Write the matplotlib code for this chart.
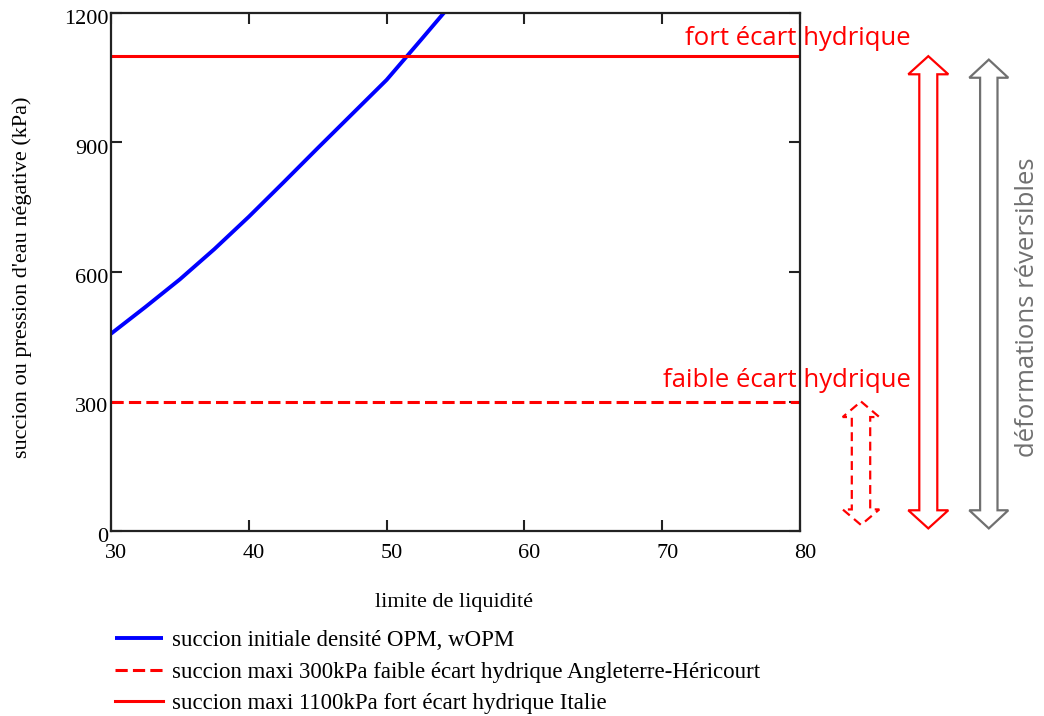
import matplotlib
matplotlib.use("Agg")
import matplotlib.pyplot as plt
import matplotlib.transforms as mtransforms
from matplotlib.patches import Polygon

# ---- data ----
limite_liquidite = [30, 32.5, 35, 37.5, 40, 42.5, 45, 47.5, 50, 52.5, 55]
succion_initiale = [457, 519, 583, 653, 728, 807, 887, 966, 1045, 1138, 1232]
succion_faible = 300
succion_fort = 1100
x_ticks = [30, 40, 50, 60, 70, 80]
y_ticks = [0, 300, 600, 900, 1200]
labels = ["succion initiale densité OPM, wOPM",
          "succion maxi 300kPa faible écart hydrique Angleterre-Héricourt",
          "succion maxi 1100kPa fort écart hydrique Italie"]

W, H = 1044, 716
fig = plt.figure(figsize=(W / 100, H / 100), dpi=100)
ax = fig.add_axes([111 / W, 1 - 531 / H, 689 / W, 518 / H])

serif = "Liberation Serif"
sans = "Open Sans"
RED = "#ff0000"
BLUE = "#0000ff"
GREY = "#707070"

ax.plot(limite_liquidite, succion_initiale, color=BLUE, lw=2.8, label=labels[0],
        solid_capstyle="butt", solid_joinstyle="round", clip_on=True)
ax.axhline(succion_faible, color=RED, lw=2.2, ls=(0, (4, 1.7)), label=labels[1])
ax.axhline(succion_fort, color=RED, lw=2.2, label=labels[2])

ax.set_xlim(30, 80)
ax.set_ylim(0, 1200)
ax.set_xticks(x_ticks)
ax.set_yticks(y_ticks)
ax.tick_params(direction="in", length=8, width=1.5, top=True, right=True,
               labelsize=16, colors="#222222")
ax.tick_params(axis="x", pad=9)
ax.tick_params(axis="y", pad=2)
for lab in ax.get_xticklabels() + ax.get_yticklabels():
    lab.set_fontfamily(serif)
    lab.set_color("black")
off_x = mtransforms.ScaledTranslation(5 / 100, 0, fig.dpi_scale_trans)
off_y = mtransforms.ScaledTranslation(0, -4 / 100, fig.dpi_scale_trans)
for lab in ax.get_xticklabels():
    lab.set_transform(lab.get_transform() + off_x)
for lab in ax.get_yticklabels():
    lab.set_transform(lab.get_transform() + off_y)

for s in ax.spines.values():
    s.set_linewidth(1.6)
    s.set_color("#222222")

fig.text(454 / W, 1 - 603 / H, "limite de liquidité", family=serif, fontsize=16,
         ha="center", va="center")
fig.text(22 / W, 1 - 277 / H, "succion ou pression d'eau négative (kPa)", family=serif,
         fontsize=16, ha="center", va="center", rotation=90)

leg = ax.legend(loc="upper left", bbox_to_anchor=(115 / W, 1 - 630 / H),
                bbox_transform=fig.transFigure, frameon=False,
                prop={"family": serif, "size": 16.5},
                handlelength=2.1, handletextpad=0.4, labelspacing=0.46, borderpad=0,
                borderaxespad=0)

# ---- annotations ----
fig.text(911 / W, 1 - 45 / H, "fort écart hydrique", family=sans, fontsize=18.5,
         color=RED, ha="right", va="baseline")
fig.text(911 / W, 1 - 387 / H, "faible écart hydrique", family=sans, fontsize=18.5,
         color=RED, ha="right", va="baseline")
fig.text(1028 / W, 1 - 307 / H, "déformations réversibles", family=sans, fontsize=18.5,
         color=GREY, ha="center", va="center", rotation=90)

trans = mtransforms.blended_transform_factory(fig.dpi_scale_trans, ax.transData)


def double_arrow(cx_px, y_bot, y_top, shaft_half, head_half, head_len, color, ls):
    cx, sw, hw = cx_px / 100, shaft_half / 100, head_half / 100
    pts = [(cx, y_top), (cx + hw, y_top - head_len), (cx + sw, y_top - head_len),
           (cx + sw, y_bot + head_len), (cx + hw, y_bot + head_len), (cx, y_bot),
           (cx - hw, y_bot + head_len), (cx - sw, y_bot + head_len),
           (cx - sw, y_top - head_len), (cx - hw, y_top - head_len)]
    poly = Polygon(pts, closed=True, fill=False, edgecolor=color, lw=1.6, ls=ls,
                   transform=trans, clip_on=False, joinstyle="miter")
    fig.add_artist(poly)


double_arrow(861, 14, succion_faible, 9.2, 18.3, 36, RED, (0, (4, 2.5)))
double_arrow(928.3, 6, succion_fort, 9, 20, 42, RED, "-")
double_arrow(988.8, 6, 1092, 8.7, 19.5, 42, GREY, "-")

fig.savefig("out.png", dpi=100)
